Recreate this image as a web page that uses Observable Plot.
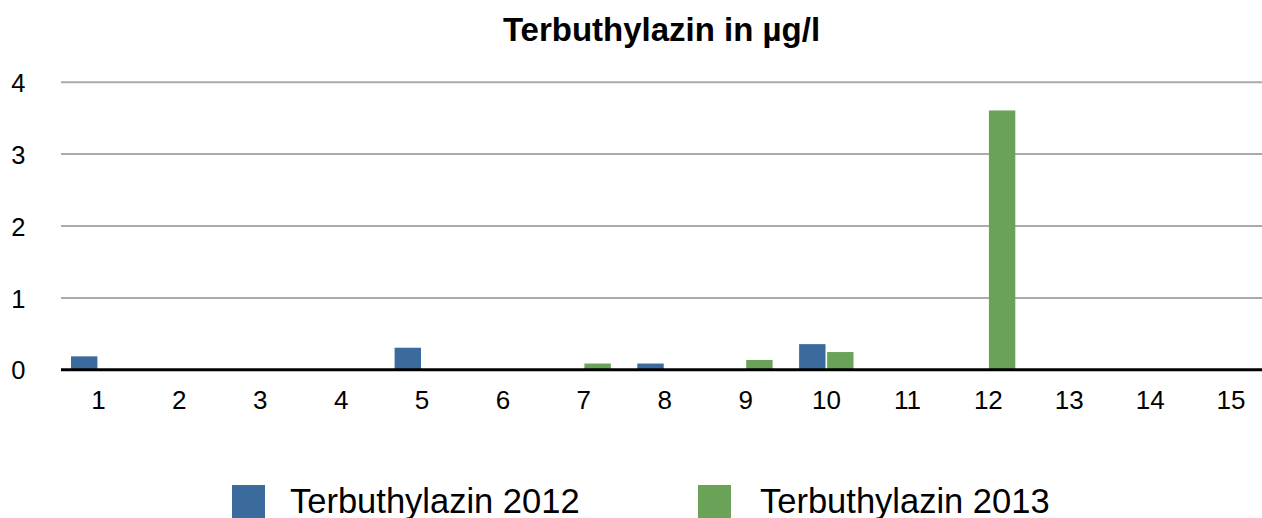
<!DOCTYPE html>
<html>
<head>
<meta charset="utf-8">
<script src="https://cdn.jsdelivr.net/npm/d3@7"></script>
<script src="https://cdn.jsdelivr.net/npm/@observablehq/plot@0.6"></script>
<style>
  html, body { margin: 0; padding: 0; background: #fff; }
  body { width: 1262px; height: 518px; overflow: hidden; font-family: "Liberation Sans", Arial, sans-serif; }
  #title { height: 60px; line-height: 60px; padding-left: 61px; text-align: center; font-weight: bold; font-size: 33px; color: #000; box-sizing: border-box; width: 1262px; white-space: nowrap; }
  #legend { position: relative; height: 48px; }
  .sw { position: absolute; width: 33px; height: 33px; top: 15.3px; }
  .lt { position: absolute; top: 12.5px; font-size: 34.5px; line-height: 36px; color: #000; white-space: nowrap; }
</style>
</head>
<body>
<div id="title">Terbuthylazin in µg/l</div>
<div id="chart"></div>
<div id="legend"></div>
<script>
const categories = ["1","2","3","4","5","6","7","8","9","10","11","12","13","14","15"];
const values2012 = [0.18, 0, 0, 0, 0.30, 0, 0, 0.08, 0, 0.35, 0, 0, 0, 0, 0];
const values2013 = [0, 0, 0, 0, 0, 0, 0.08, 0, 0.13, 0.24, 0, 3.6, 0, 0, 0];
const seriesNames = ["Terbuthylazin 2012", "Terbuthylazin 2013"];
const seriesColors = ["#3b6a9c", "#6aa258"];
const yTicks = [0, 1, 2, 3, 4];

const d2012 = categories.map((c, i) => ({cat: c, value: values2012[i]})).filter(d => d.value > 0);
const d2013 = categories.map((c, i) => ({cat: c, value: values2013[i]})).filter(d => d.value > 0);

const plot = Plot.plot({
  width: 1262,
  height: 410,
  marginLeft: 61,
  marginRight: 0,
  marginTop: 21.7,
  marginBottom: 100.7,
  style: {fontFamily: "Liberation Sans, Arial, sans-serif", fontSize: "24px", color: "#000", background: "#fff"},
  x: {type: "band", domain: categories, range: [57.5, 1271], padding: 0, round: false},
  y: {domain: [0, 4]},
  marks: [
    Plot.ruleY(yTicks.filter(t => t > 0), {stroke: "#aaaaaa", strokeWidth: 2}),
    Plot.barY(d2012, {x: "cat", y: "value", fill: seriesColors[0], insetLeft: 13.5, insetRight: 41}),
    Plot.barY(d2013, {x: "cat", y: "value", fill: seriesColors[1], insetLeft: 41.5, insetRight: 13}),
    Plot.ruleY([0], {stroke: "#000", strokeWidth: 3}),
    Plot.axisY({ticks: yTicks, tickSize: 0, tickPadding: 36, tickFormat: d => String(d), label: null, fontSize: 25.5, dy: 1.5}),
    Plot.axisX({tickSize: 0, tickPadding: 21, label: null, fontSize: 26})
  ]
});
document.getElementById("chart").appendChild(plot);

const legend = document.getElementById("legend");
const swX = [232, 698];
const txX = [290, 760];
seriesNames.forEach((name, i) => {
  const s = document.createElement("div");
  s.className = "sw";
  s.style.left = swX[i] + "px";
  s.style.background = seriesColors[i];
  legend.appendChild(s);
  const t = document.createElement("div");
  t.className = "lt";
  t.style.left = txX[i] + "px";
  t.textContent = name;
  legend.appendChild(t);
});
</script>
</body>
</html>
